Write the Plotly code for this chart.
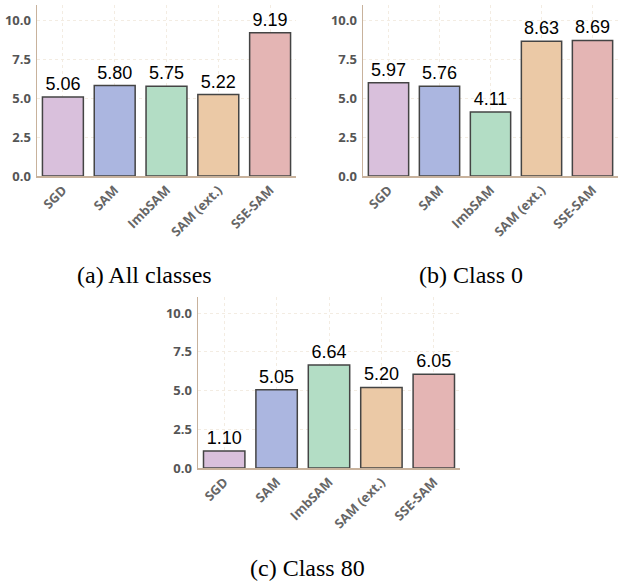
import plotly.graph_objects as go

methods = ["SGD", "SAM", "ImbSAM", "SAM (ext.)", "SSE-SAM"]
vals_all = [5.06, 5.80, 5.75, 5.22, 9.19]
vals_c0 = [5.97, 5.76, 4.11, 8.63, 8.69]
vals_c80 = [1.10, 5.05, 6.64, 5.20, 6.05]
captions = ["(a) All classes", "(b) Class 0", "(c) Class 80"]
yticks = [0, 2.5, 5.0, 7.5, 10.0]

colors = ["#d9c0dc", "#abb6e0", "#b3ddc5", "#ebc9a6", "#e4b5b4"]

W, H = 618, 584
def px(x): return x / W
def py(y): return 1 - y / H

panels = [
    (vals_all, "x", "y", (37, 296), (176, 5), 20),
    (vals_c0, "x2", "y2", (363, 619), (176, 5), 20),
    (vals_c80, "x3", "y3", (198, 460), (468, 297), 313),
]

fig = go.Figure()
layout = {}
for i, (vals, xa, ya, (x0, x1), (yb, yt), y10) in enumerate(panels):
    fig.add_trace(go.Bar(
        x=methods, y=vals, xaxis=xa, yaxis=ya,
        marker=dict(color=colors, line=dict(color="#444444", width=1.5)),
        text=[f"{v:.2f}" for v in vals], textposition="outside",
        textfont=dict(family="Liberation Sans, Arial", size=18, color="black"),
        cliponaxis=False, showlegend=False, hoverinfo="skip",
    ))
    suffix = "" if i == 0 else str(i + 1)
    top = (yb - yt) / ((yb - y10) / 10.0)
    layout["xaxis" + suffix] = dict(
        domain=[px(x0), min(1, px(x1))], anchor="y" + suffix,
        range=[-0.5, 4.5], showgrid=True, gridcolor="#f3ece2", griddash="3px,3px", gridwidth=1,
        showline=True, linecolor="#c8b29c", linewidth=1.5, ticks="",
        tickangle=-45, automargin=False,
        tickfont=dict(family="Open Sans", size=13, color="#666666", weight="bold"),
        fixedrange=True,
    )
    layout["yaxis" + suffix] = dict(
        domain=[py(yb), py(yt)], anchor="x" + suffix,
        range=[0, top], tickvals=yticks, ticktext=[f"{t:.1f}" for t in yticks],
        showgrid=True, gridcolor="#f3ece2", griddash="3px,3px", gridwidth=1,
        showline=True, linecolor="#c8b29c", linewidth=1.5, ticks="",
        zeroline=False, automargin=False, fixedrange=True,
        tickfont=dict(family="Open Sans", size=13, color="#555555", weight="bold"),
        ticklabelstandoff=2,
    )

ann = []
for cap, (cx, cy) in zip(captions, [(144, 275), (471, 275), (307, 568)]):
    ann.append(dict(text=cap, x=px(cx), y=py(cy), xref="paper", yref="paper",
                    xanchor="center", yanchor="middle", showarrow=False,
                    font=dict(family="Liberation Serif, Times New Roman", size=24, color="black")))

fig.update_layout(
    width=W, height=H, margin=dict(l=0, r=0, t=0, b=0),
    paper_bgcolor="white", plot_bgcolor="white", bargap=0.21,
    annotations=ann, **layout,
)
fig.write_html("out.html", config={"displayModeBar": False, "staticPlot": True},
               post_script="document.body.style.margin='0';document.body.style.overflow='hidden';")
